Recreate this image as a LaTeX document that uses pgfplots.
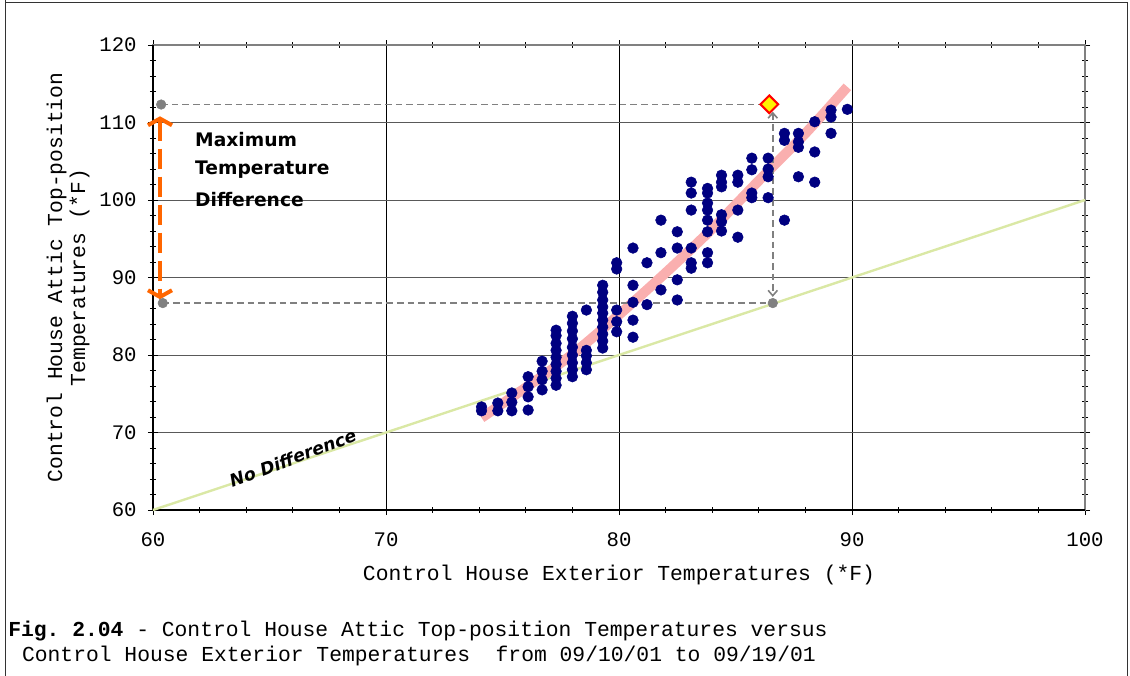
\documentclass[border=0pt]{standalone}
\usepackage{fontspec}
\setmainfont{Liberation Mono}
\newfontfamily\annfont{DejaVu Sans}
\usepackage{pgfplots}
\pgfplotsset{compat=1.18}
\usetikzlibrary{arrows.meta}
\definecolor{navyd}{RGB}{0,0,128}
\definecolor{pinkl}{RGB}{250,175,175}
\definecolor{greenl}{RGB}{218,232,165}
\definecolor{orangea}{RGB}{255,102,0}
\definecolor{grayd}{RGB}{128,128,128}
\frenchspacing
\begin{document}
\begin{tikzpicture}
\useasboundingbox (0,0) rectangle (847.5pt,506.25pt);
\draw[black!80, line width=0.75pt] (3.75pt,520pt) -- (3.75pt,504pt) -- (845.6pt,504pt) -- (845.6pt,-10pt);
\draw[black!80, line width=0.75pt] (3.75pt,504pt) -- (3.75pt,-10pt);
\begin{axis}[
  at={(114.75pt,123.75pt)}, anchor=south west,
  scale only axis, width=699pt, height=348.75pt,
  xmin=60, xmax=100, ymin=60, ymax=120,
  xtick={60,70,80,90,100}, ytick={60,70,...,120},
  minor x tick num=4, minor y tick num=4,
  tick align=center,
  major tick length=7.5pt, minor tick length=4.5pt,
  grid=major,
  major x grid style={black, line width=0.6pt},
  major y grid style={black!65, line width=0.6pt},
  axis line style={grayd, line width=0.9pt},
  tick style={black, line width=0.6pt},
  /pgf/number format/assume math mode=true,
  ticklabel style={font=\fontsize{15.5}{19}\selectfont},
  xticklabel style={yshift=-10pt},
  yticklabel style={xshift=-5pt},
  xlabel={Control House Exterior Temperatures (*F)},
  ylabel={Control House Attic Top-position\\Temperatures (*F)},
  xlabel style={at={(axis description cs:0.5,-0.1398)}, anchor=center, font=\fontsize{16}{19}\selectfont},
  ylabel style={at={(axis description cs:-0.0912,0.5)}, anchor=center, align=center, font=\fontsize{16}{17.25}\selectfont},
  clip=false,
]
% black left and bottom axis lines
\addplot[black, line width=0.9pt] coordinates {(60,120) (60,60) (100,60)};
% scatter
\addplot[only marks, mark=*, mark size=4pt, color=navyd, mark options={fill=navyd, draw=navyd}] table {
74.1 73.3
74.1 72.8
74.8 73.8
74.8 72.8
75.4 75.1
75.4 73.9
75.4 72.8
76.1 77.2
76.1 75.9
76.1 74.6
76.1 72.9
76.7 79.2
76.7 77.9
76.7 76.8
76.7 75.5
77.3 83.2
77.3 82.5
77.3 81.5
77.3 80.6
77.3 79.7
77.3 78.8
77.3 77.9
77.3 77.0
77.3 76.1
78.0 85.0
78.0 84.1
78.0 83.1
78.0 82.1
78.0 81.0
78.0 80.0
78.0 79.0
78.0 78.1
78.0 77.2
78.6 85.8
78.6 80.6
78.6 79.9
78.6 79.0
78.6 78.1
79.3 89.0
79.3 88.1
79.3 87.1
79.3 86.2
79.3 85.4
79.3 84.5
79.3 83.6
79.3 82.7
79.3 81.8
79.3 80.9
79.9 91.9
79.9 91.1
79.9 85.8
79.9 84.3
79.9 83.0
80.6 93.8
80.6 89.0
80.6 86.8
80.6 84.5
80.6 82.3
81.2 91.9
81.2 86.5
81.8 97.4
81.8 93.2
81.8 88.4
82.5 95.9
82.5 93.8
82.5 89.7
82.5 87.1
83.1 102.3
83.1 100.9
83.1 98.7
83.1 93.8
83.1 91.9
83.1 91.2
83.8 101.5
83.8 100.9
83.8 99.6
83.8 98.7
83.8 97.4
83.8 95.9
83.8 93.2
83.8 91.9
84.4 103.2
84.4 102.3
84.4 101.7
84.4 98.1
84.4 97.2
84.4 96.0
85.1 103.2
85.1 102.3
85.1 98.7
85.1 95.2
85.7 105.4
85.7 103.9
85.7 100.9
85.7 100.3
86.4 105.4
86.4 104.0
86.4 103.0
86.4 100.3
87.1 108.6
87.1 107.7
87.1 97.4
87.7 108.6
87.7 107.5
87.7 106.8
87.7 103.0
88.4 110.1
88.4 106.2
88.4 102.3
89.1 111.6
89.1 110.7
89.1 108.6
89.8 111.7
};
% no-difference line
\addplot[greenl, line width=1.8pt] coordinates {(60,60) (100,100)};
% trend line
\addplot[pinkl, line width=7.5pt, smooth] coordinates {
(74.1,71.9) (76.0,75.8) (78.0,80.1) (80.0,85.2) (82.0,90.6) (84.0,96.3) (86.0,102.5) (88.0,108.6) (89.8,114.6)};
% diamond (max)
\addplot[only marks, mark=square*, mark size=4.7pt, mark options={rotate=45, fill=yellow, draw=red, line width=1.5pt}] coordinates {(86.45,112.35)};
% dashed guide lines
\addplot[grayd, line width=1.2pt, dash pattern=on 5pt off 3pt] coordinates {(60.35,112.32) (86.45,112.32)};
\addplot[grayd, line width=1.2pt, dash pattern=on 5pt off 3pt] coordinates {(60.4,86.7) (86.6,86.7)};
\addplot[grayd, line width=1.2pt, dash pattern=on 5pt off 3pt, {Straight Barb[length=4pt,width=7pt]}-{Straight Barb[length=4pt,width=7pt]}] coordinates {(86.6,111.4) (86.6,87.5)};
% orange arrow
\addplot[orangea, line width=3pt, dash pattern=on 15pt off 6pt, {Straight Barb[length=5pt,width=18pt]}-{Straight Barb[length=5pt,width=18pt]}] coordinates {(60.3,110.8) (60.3,87.2)};
% gray dots
\addplot[only marks, mark=*, mark size=3.6pt, color=grayd, mark options={fill=grayd, draw=grayd}] coordinates {(60.35,112.32) (60.42,86.7) (86.6,86.7)};
% annotations
\node[anchor=west, inner sep=0pt, font=\annfont\bfseries\fontsize{14}{16}\selectfont] at (axis cs:61.8,107.74) {Maximum};
\node[anchor=west, inner sep=0pt, font=\annfont\bfseries\fontsize{14}{16}\selectfont] at (axis cs:61.8,103.87) {Temperature};
\node[anchor=west, inner sep=0pt, font=\annfont\bfseries\fontsize{14}{16}\selectfont] at (axis cs:61.8,100.0) {Difference};
\node[rotate=20.5, inner sep=0pt, font=\annfont\bfseries\itshape\fontsize{13}{15}\selectfont] at (axis cs:66.0,66.7) {No Difference};
\end{axis}
\node[anchor=west, inner sep=0pt, font=\fontsize{16}{19}\selectfont] at (6pt,33pt) {\textbf{Fig. 2.04} - Control House Attic Top-position Temperatures versus};
\node[anchor=west, inner sep=0pt, font=\fontsize{16}{19}\selectfont] at (6.75pt,14.25pt) {\ Control House Exterior Temperatures\ \ from 09/10/01 to 09/19/01};
\end{tikzpicture}
\end{document}
